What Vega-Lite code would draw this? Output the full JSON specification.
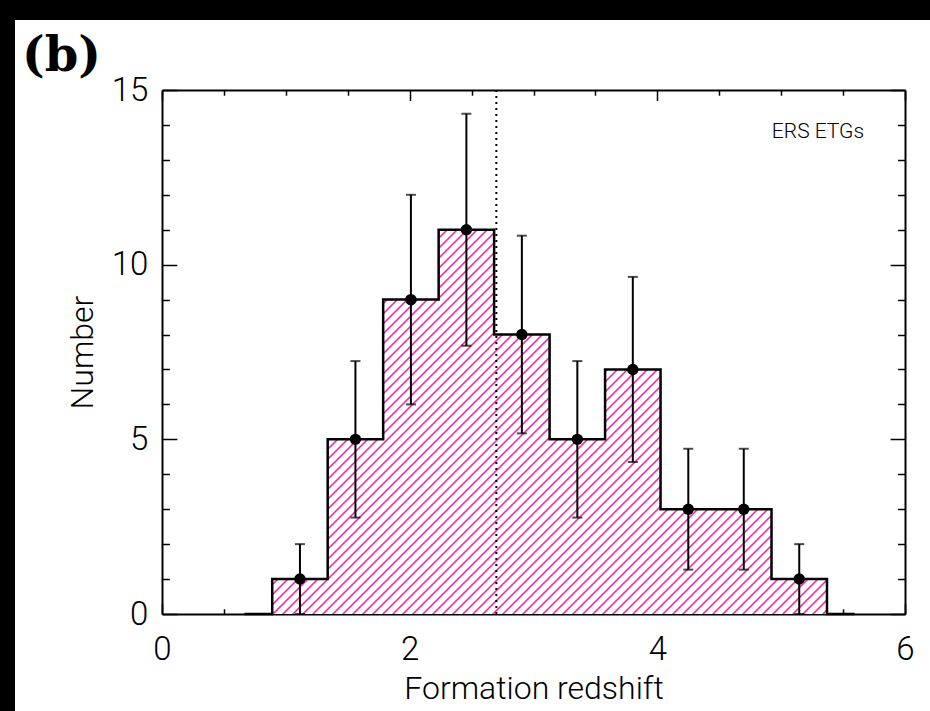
{
  "$schema": "https://vega.github.io/schema/vega-lite/v6.json",
  "autosize": "none",
  "width": 915,
  "height": 691,
  "padding": {"left": 15, "top": 20, "right": 0, "bottom": 0},
  "background": "black",
  "config": {
    "view": {"fill": "white", "stroke": null},
    "axis": {"grid": false, "domainColor": "black", "domainWidth": 2, "tickColor": "black", "tickWidth": 1.5, "labelColor": "black", "titleColor": "black", "labelFont": "Roboto", "labelFontWeight": 300, "titleFont": "Roboto", "titleFontWeight": 300, "labelFlush": false, "labelOverlap": false, "labelBound": false}
  },
  "datasets": {
    "hist": [
      {"z": 0.666, "n": 0},
      {"z": 0.89, "n": 1},
      {"z": 1.338, "n": 5},
      {"z": 1.786, "n": 9},
      {"z": 2.234, "n": 11},
      {"z": 2.682, "n": 8},
      {"z": 3.13, "n": 5},
      {"z": 3.578, "n": 7},
      {"z": 4.026, "n": 3},
      {"z": 4.474, "n": 3},
      {"z": 4.922, "n": 1},
      {"z": 5.37, "n": 0},
      {"z": 5.594, "n": 0}
    ],
    "pts": [
      {"z": 1.114, "n": 1, "lo": 0, "hi": 2},
      {"z": 1.562, "n": 5, "lo": 2.76, "hi": 7.24},
      {"z": 2.01, "n": 9, "lo": 6, "hi": 12},
      {"z": 2.458, "n": 11, "lo": 7.68, "hi": 14.32},
      {"z": 2.906, "n": 8, "lo": 5.17, "hi": 10.83},
      {"z": 3.354, "n": 5, "lo": 2.76, "hi": 7.24},
      {"z": 3.802, "n": 7, "lo": 4.35, "hi": 9.65},
      {"z": 4.25, "n": 3, "lo": 1.27, "hi": 4.73},
      {"z": 4.698, "n": 3, "lo": 1.27, "hi": 4.73},
      {"z": 5.146, "n": 1, "lo": 0, "hi": 2}
    ]
  },
  "resolve": {"axis": {"x": "independent", "y": "independent"}},
  "layer": [
    {
      "data": {"name": "hist"},
      "transform": [{"filter": {"field": "z", "range": [0.8, 5.4]}}],
      "mark": {"type": "area", "interpolate": "step-after", "fill": {"gradient": "linear", "x1": 0, "y1": 0, "x2": 1.2182, "y2": 0.8437, "stops": [
        {"offset": 0, "color": "white"},
        {"offset": 0.0034, "color": "white"}, {"offset": 0.0044, "color": "#f2a"}, {"offset": 0.0056, "color": "#f2a"}, {"offset": 0.0066, "color": "white"},
        {"offset": 0.0134, "color": "white"}, {"offset": 0.0144, "color": "#f2a"}, {"offset": 0.0156, "color": "#f2a"}, {"offset": 0.0166, "color": "white"},
        {"offset": 0.0234, "color": "white"}, {"offset": 0.0244, "color": "#f2a"}, {"offset": 0.0256, "color": "#f2a"}, {"offset": 0.0266, "color": "white"},
        {"offset": 0.0334, "color": "white"}, {"offset": 0.0344, "color": "#f2a"}, {"offset": 0.0356, "color": "#f2a"}, {"offset": 0.0366, "color": "white"},
        {"offset": 0.0434, "color": "white"}, {"offset": 0.0444, "color": "#f2a"}, {"offset": 0.0456, "color": "#f2a"}, {"offset": 0.0466, "color": "white"},
        {"offset": 0.0534, "color": "white"}, {"offset": 0.0544, "color": "#f2a"}, {"offset": 0.0556, "color": "#f2a"}, {"offset": 0.0566, "color": "white"},
        {"offset": 0.0634, "color": "white"}, {"offset": 0.0644, "color": "#f2a"}, {"offset": 0.0656, "color": "#f2a"}, {"offset": 0.0666, "color": "white"},
        {"offset": 0.0734, "color": "white"}, {"offset": 0.0744, "color": "#f2a"}, {"offset": 0.0756, "color": "#f2a"}, {"offset": 0.0766, "color": "white"},
        {"offset": 0.0834, "color": "white"}, {"offset": 0.0844, "color": "#f2a"}, {"offset": 0.0856, "color": "#f2a"}, {"offset": 0.0866, "color": "white"},
        {"offset": 0.0934, "color": "white"}, {"offset": 0.0944, "color": "#f2a"}, {"offset": 0.0956, "color": "#f2a"}, {"offset": 0.0966, "color": "white"},
        {"offset": 0.1034, "color": "white"}, {"offset": 0.1044, "color": "#f2a"}, {"offset": 0.1056, "color": "#f2a"}, {"offset": 0.1066, "color": "white"},
        {"offset": 0.1134, "color": "white"}, {"offset": 0.1144, "color": "#f2a"}, {"offset": 0.1156, "color": "#f2a"}, {"offset": 0.1166, "color": "white"},
        {"offset": 0.1234, "color": "white"}, {"offset": 0.1244, "color": "#f2a"}, {"offset": 0.1256, "color": "#f2a"}, {"offset": 0.1266, "color": "white"},
        {"offset": 0.1334, "color": "white"}, {"offset": 0.1344, "color": "#f2a"}, {"offset": 0.1356, "color": "#f2a"}, {"offset": 0.1366, "color": "white"},
        {"offset": 0.1434, "color": "white"}, {"offset": 0.1444, "color": "#f2a"}, {"offset": 0.1456, "color": "#f2a"}, {"offset": 0.1466, "color": "white"},
        {"offset": 0.1534, "color": "white"}, {"offset": 0.1544, "color": "#f2a"}, {"offset": 0.1556, "color": "#f2a"}, {"offset": 0.1566, "color": "white"},
        {"offset": 0.1634, "color": "white"}, {"offset": 0.1644, "color": "#f2a"}, {"offset": 0.1656, "color": "#f2a"}, {"offset": 0.1666, "color": "white"},
        {"offset": 0.1734, "color": "white"}, {"offset": 0.1744, "color": "#f2a"}, {"offset": 0.1756, "color": "#f2a"}, {"offset": 0.1766, "color": "white"},
        {"offset": 0.1834, "color": "white"}, {"offset": 0.1844, "color": "#f2a"}, {"offset": 0.1856, "color": "#f2a"}, {"offset": 0.1866, "color": "white"},
        {"offset": 0.1934, "color": "white"}, {"offset": 0.1944, "color": "#f2a"}, {"offset": 0.1956, "color": "#f2a"}, {"offset": 0.1966, "color": "white"},
        {"offset": 0.2034, "color": "white"}, {"offset": 0.2044, "color": "#f2a"}, {"offset": 0.2056, "color": "#f2a"}, {"offset": 0.2066, "color": "white"},
        {"offset": 0.2134, "color": "white"}, {"offset": 0.2144, "color": "#f2a"}, {"offset": 0.2156, "color": "#f2a"}, {"offset": 0.2166, "color": "white"},
        {"offset": 0.2234, "color": "white"}, {"offset": 0.2244, "color": "#f2a"}, {"offset": 0.2256, "color": "#f2a"}, {"offset": 0.2266, "color": "white"},
        {"offset": 0.2334, "color": "white"}, {"offset": 0.2344, "color": "#f2a"}, {"offset": 0.2356, "color": "#f2a"}, {"offset": 0.2366, "color": "white"},
        {"offset": 0.2434, "color": "white"}, {"offset": 0.2444, "color": "#f2a"}, {"offset": 0.2456, "color": "#f2a"}, {"offset": 0.2466, "color": "white"},
        {"offset": 0.2534, "color": "white"}, {"offset": 0.2544, "color": "#f2a"}, {"offset": 0.2556, "color": "#f2a"}, {"offset": 0.2566, "color": "white"},
        {"offset": 0.2634, "color": "white"}, {"offset": 0.2644, "color": "#f2a"}, {"offset": 0.2656, "color": "#f2a"}, {"offset": 0.2666, "color": "white"},
        {"offset": 0.2734, "color": "white"}, {"offset": 0.2744, "color": "#f2a"}, {"offset": 0.2756, "color": "#f2a"}, {"offset": 0.2766, "color": "white"},
        {"offset": 0.2834, "color": "white"}, {"offset": 0.2844, "color": "#f2a"}, {"offset": 0.2856, "color": "#f2a"}, {"offset": 0.2866, "color": "white"},
        {"offset": 0.2934, "color": "white"}, {"offset": 0.2944, "color": "#f2a"}, {"offset": 0.2956, "color": "#f2a"}, {"offset": 0.2966, "color": "white"},
        {"offset": 0.3034, "color": "white"}, {"offset": 0.3044, "color": "#f2a"}, {"offset": 0.3056, "color": "#f2a"}, {"offset": 0.3066, "color": "white"},
        {"offset": 0.3134, "color": "white"}, {"offset": 0.3144, "color": "#f2a"}, {"offset": 0.3156, "color": "#f2a"}, {"offset": 0.3166, "color": "white"},
        {"offset": 0.3234, "color": "white"}, {"offset": 0.3244, "color": "#f2a"}, {"offset": 0.3256, "color": "#f2a"}, {"offset": 0.3266, "color": "white"},
        {"offset": 0.3334, "color": "white"}, {"offset": 0.3344, "color": "#f2a"}, {"offset": 0.3356, "color": "#f2a"}, {"offset": 0.3366, "color": "white"},
        {"offset": 0.3434, "color": "white"}, {"offset": 0.3444, "color": "#f2a"}, {"offset": 0.3456, "color": "#f2a"}, {"offset": 0.3466, "color": "white"},
        {"offset": 0.3534, "color": "white"}, {"offset": 0.3544, "color": "#f2a"}, {"offset": 0.3556, "color": "#f2a"}, {"offset": 0.3566, "color": "white"},
        {"offset": 0.3634, "color": "white"}, {"offset": 0.3644, "color": "#f2a"}, {"offset": 0.3656, "color": "#f2a"}, {"offset": 0.3666, "color": "white"},
        {"offset": 0.3734, "color": "white"}, {"offset": 0.3744, "color": "#f2a"}, {"offset": 0.3756, "color": "#f2a"}, {"offset": 0.3766, "color": "white"},
        {"offset": 0.3834, "color": "white"}, {"offset": 0.3844, "color": "#f2a"}, {"offset": 0.3856, "color": "#f2a"}, {"offset": 0.3866, "color": "white"},
        {"offset": 0.3934, "color": "white"}, {"offset": 0.3944, "color": "#f2a"}, {"offset": 0.3956, "color": "#f2a"}, {"offset": 0.3966, "color": "white"},
        {"offset": 0.4034, "color": "white"}, {"offset": 0.4044, "color": "#f2a"}, {"offset": 0.4056, "color": "#f2a"}, {"offset": 0.4066, "color": "white"},
        {"offset": 0.4134, "color": "white"}, {"offset": 0.4144, "color": "#f2a"}, {"offset": 0.4156, "color": "#f2a"}, {"offset": 0.4166, "color": "white"},
        {"offset": 0.4234, "color": "white"}, {"offset": 0.4244, "color": "#f2a"}, {"offset": 0.4256, "color": "#f2a"}, {"offset": 0.4266, "color": "white"},
        {"offset": 0.4334, "color": "white"}, {"offset": 0.4344, "color": "#f2a"}, {"offset": 0.4356, "color": "#f2a"}, {"offset": 0.4366, "color": "white"},
        {"offset": 0.4434, "color": "white"}, {"offset": 0.4444, "color": "#f2a"}, {"offset": 0.4456, "color": "#f2a"}, {"offset": 0.4466, "color": "white"},
        {"offset": 0.4534, "color": "white"}, {"offset": 0.4544, "color": "#f2a"}, {"offset": 0.4556, "color": "#f2a"}, {"offset": 0.4566, "color": "white"},
        {"offset": 0.4634, "color": "white"}, {"offset": 0.4644, "color": "#f2a"}, {"offset": 0.4656, "color": "#f2a"}, {"offset": 0.4666, "color": "white"},
        {"offset": 0.4734, "color": "white"}, {"offset": 0.4744, "color": "#f2a"}, {"offset": 0.4756, "color": "#f2a"}, {"offset": 0.4766, "color": "white"},
        {"offset": 0.4834, "color": "white"}, {"offset": 0.4844, "color": "#f2a"}, {"offset": 0.4856, "color": "#f2a"}, {"offset": 0.4866, "color": "white"},
        {"offset": 0.4934, "color": "white"}, {"offset": 0.4944, "color": "#f2a"}, {"offset": 0.4956, "color": "#f2a"}, {"offset": 0.4966, "color": "white"},
        {"offset": 0.5034, "color": "white"}, {"offset": 0.5044, "color": "#f2a"}, {"offset": 0.5056, "color": "#f2a"}, {"offset": 0.5066, "color": "white"},
        {"offset": 0.5134, "color": "white"}, {"offset": 0.5144, "color": "#f2a"}, {"offset": 0.5156, "color": "#f2a"}, {"offset": 0.5166, "color": "white"},
        {"offset": 0.5234, "color": "white"}, {"offset": 0.5244, "color": "#f2a"}, {"offset": 0.5256, "color": "#f2a"}, {"offset": 0.5266, "color": "white"},
        {"offset": 0.5334, "color": "white"}, {"offset": 0.5344, "color": "#f2a"}, {"offset": 0.5356, "color": "#f2a"}, {"offset": 0.5366, "color": "white"},
        {"offset": 0.5434, "color": "white"}, {"offset": 0.5444, "color": "#f2a"}, {"offset": 0.5456, "color": "#f2a"}, {"offset": 0.5466, "color": "white"},
        {"offset": 0.5534, "color": "white"}, {"offset": 0.5544, "color": "#f2a"}, {"offset": 0.5556, "color": "#f2a"}, {"offset": 0.5566, "color": "white"},
        {"offset": 0.5634, "color": "white"}, {"offset": 0.5644, "color": "#f2a"}, {"offset": 0.5656, "color": "#f2a"}, {"offset": 0.5666, "color": "white"},
        {"offset": 0.5734, "color": "white"}, {"offset": 0.5744, "color": "#f2a"}, {"offset": 0.5756, "color": "#f2a"}, {"offset": 0.5766, "color": "white"},
        {"offset": 0.5834, "color": "white"}, {"offset": 0.5844, "color": "#f2a"}, {"offset": 0.5856, "color": "#f2a"}, {"offset": 0.5866, "color": "white"},
        {"offset": 0.5934, "color": "white"}, {"offset": 0.5944, "color": "#f2a"}, {"offset": 0.5956, "color": "#f2a"}, {"offset": 0.5966, "color": "white"},
        {"offset": 0.6034, "color": "white"}, {"offset": 0.6044, "color": "#f2a"}, {"offset": 0.6056, "color": "#f2a"}, {"offset": 0.6066, "color": "white"},
        {"offset": 0.6134, "color": "white"}, {"offset": 0.6144, "color": "#f2a"}, {"offset": 0.6156, "color": "#f2a"}, {"offset": 0.6166, "color": "white"},
        {"offset": 0.6234, "color": "white"}, {"offset": 0.6244, "color": "#f2a"}, {"offset": 0.6256, "color": "#f2a"}, {"offset": 0.6266, "color": "white"},
        {"offset": 0.6334, "color": "white"}, {"offset": 0.6344, "color": "#f2a"}, {"offset": 0.6356, "color": "#f2a"}, {"offset": 0.6366, "color": "white"},
        {"offset": 0.6434, "color": "white"}, {"offset": 0.6444, "color": "#f2a"}, {"offset": 0.6456, "color": "#f2a"}, {"offset": 0.6466, "color": "white"},
        {"offset": 0.6534, "color": "white"}, {"offset": 0.6544, "color": "#f2a"}, {"offset": 0.6556, "color": "#f2a"}, {"offset": 0.6566, "color": "white"},
        {"offset": 0.6634, "color": "white"}, {"offset": 0.6644, "color": "#f2a"}, {"offset": 0.6656, "color": "#f2a"}, {"offset": 0.6666, "color": "white"},
        {"offset": 0.6734, "color": "white"}, {"offset": 0.6744, "color": "#f2a"}, {"offset": 0.6756, "color": "#f2a"}, {"offset": 0.6766, "color": "white"},
        {"offset": 0.6834, "color": "white"}, {"offset": 0.6844, "color": "#f2a"}, {"offset": 0.6856, "color": "#f2a"}, {"offset": 0.6866, "color": "white"},
        {"offset": 0.6934, "color": "white"}, {"offset": 0.6944, "color": "#f2a"}, {"offset": 0.6956, "color": "#f2a"}, {"offset": 0.6966, "color": "white"},
        {"offset": 0.7034, "color": "white"}, {"offset": 0.7044, "color": "#f2a"}, {"offset": 0.7056, "color": "#f2a"}, {"offset": 0.7066, "color": "white"},
        {"offset": 0.7134, "color": "white"}, {"offset": 0.7144, "color": "#f2a"}, {"offset": 0.7156, "color": "#f2a"}, {"offset": 0.7166, "color": "white"},
        {"offset": 0.7234, "color": "white"}, {"offset": 0.7244, "color": "#f2a"}, {"offset": 0.7256, "color": "#f2a"}, {"offset": 0.7266, "color": "white"},
        {"offset": 0.7334, "color": "white"}, {"offset": 0.7344, "color": "#f2a"}, {"offset": 0.7356, "color": "#f2a"}, {"offset": 0.7366, "color": "white"},
        {"offset": 0.7434, "color": "white"}, {"offset": 0.7444, "color": "#f2a"}, {"offset": 0.7456, "color": "#f2a"}, {"offset": 0.7466, "color": "white"},
        {"offset": 0.7534, "color": "white"}, {"offset": 0.7544, "color": "#f2a"}, {"offset": 0.7556, "color": "#f2a"}, {"offset": 0.7566, "color": "white"},
        {"offset": 0.7634, "color": "white"}, {"offset": 0.7644, "color": "#f2a"}, {"offset": 0.7656, "color": "#f2a"}, {"offset": 0.7666, "color": "white"},
        {"offset": 0.7734, "color": "white"}, {"offset": 0.7744, "color": "#f2a"}, {"offset": 0.7756, "color": "#f2a"}, {"offset": 0.7766, "color": "white"},
        {"offset": 0.7834, "color": "white"}, {"offset": 0.7844, "color": "#f2a"}, {"offset": 0.7856, "color": "#f2a"}, {"offset": 0.7866, "color": "white"},
        {"offset": 0.7934, "color": "white"}, {"offset": 0.7944, "color": "#f2a"}, {"offset": 0.7956, "color": "#f2a"}, {"offset": 0.7966, "color": "white"},
        {"offset": 0.8034, "color": "white"}, {"offset": 0.8044, "color": "#f2a"}, {"offset": 0.8056, "color": "#f2a"}, {"offset": 0.8066, "color": "white"},
        {"offset": 0.8134, "color": "white"}, {"offset": 0.8144, "color": "#f2a"}, {"offset": 0.8156, "color": "#f2a"}, {"offset": 0.8166, "color": "white"},
        {"offset": 0.8234, "color": "white"}, {"offset": 0.8244, "color": "#f2a"}, {"offset": 0.8256, "color": "#f2a"}, {"offset": 0.8266, "color": "white"},
        {"offset": 0.8334, "color": "white"}, {"offset": 0.8344, "color": "#f2a"}, {"offset": 0.8356, "color": "#f2a"}, {"offset": 0.8366, "color": "white"},
        {"offset": 0.8434, "color": "white"}, {"offset": 0.8444, "color": "#f2a"}, {"offset": 0.8456, "color": "#f2a"}, {"offset": 0.8466, "color": "white"},
        {"offset": 0.8534, "color": "white"}, {"offset": 0.8544, "color": "#f2a"}, {"offset": 0.8556, "color": "#f2a"}, {"offset": 0.8566, "color": "white"},
        {"offset": 0.8634, "color": "white"}, {"offset": 0.8644, "color": "#f2a"}, {"offset": 0.8656, "color": "#f2a"}, {"offset": 0.8666, "color": "white"},
        {"offset": 0.8734, "color": "white"}, {"offset": 0.8744, "color": "#f2a"}, {"offset": 0.8756, "color": "#f2a"}, {"offset": 0.8766, "color": "white"},
        {"offset": 0.8834, "color": "white"}, {"offset": 0.8844, "color": "#f2a"}, {"offset": 0.8856, "color": "#f2a"}, {"offset": 0.8866, "color": "white"},
        {"offset": 0.8934, "color": "white"}, {"offset": 0.8944, "color": "#f2a"}, {"offset": 0.8956, "color": "#f2a"}, {"offset": 0.8966, "color": "white"},
        {"offset": 0.9034, "color": "white"}, {"offset": 0.9044, "color": "#f2a"}, {"offset": 0.9056, "color": "#f2a"}, {"offset": 0.9066, "color": "white"},
        {"offset": 0.9134, "color": "white"}, {"offset": 0.9144, "color": "#f2a"}, {"offset": 0.9156, "color": "#f2a"}, {"offset": 0.9166, "color": "white"},
        {"offset": 0.9234, "color": "white"}, {"offset": 0.9244, "color": "#f2a"}, {"offset": 0.9256, "color": "#f2a"}, {"offset": 0.9266, "color": "white"},
        {"offset": 0.9334, "color": "white"}, {"offset": 0.9344, "color": "#f2a"}, {"offset": 0.9356, "color": "#f2a"}, {"offset": 0.9366, "color": "white"},
        {"offset": 0.9434, "color": "white"}, {"offset": 0.9444, "color": "#f2a"}, {"offset": 0.9456, "color": "#f2a"}, {"offset": 0.9466, "color": "white"},
        {"offset": 1, "color": "white"}
      ]}},
      "encoding": {
        "x": {"field": "z", "type": "quantitative", "scale": {"domain": [0, 6], "range": [147, 890], "nice": false, "zero": false},
          "axis": {"orient": "bottom", "offset": -97, "values": [0, 0.5, 1, 1.5, 2, 2.5, 3, 3.5, 4, 4.5, 5, 5.5, 6],
            "labelExpr": "datum.value % 2 === 0 ? '' + datum.value : ''",
            "tickSize": {"condition": {"test": "datum.value % 2 === 0", "value": -10.5}, "value": -5.2},
            "labelPadding": 30, "labelFontSize": 33, "title": "Formation redshift", "titleFontSize": 32, "titlePadding": 2}},
        "y": {"field": "n", "type": "quantitative", "stack": null, "scale": {"domain": [0, 15], "range": [594, 70], "nice": false, "zero": false},
          "axis": {"orient": "left", "offset": -147, "values": [0, 1, 2, 3, 4, 5, 6, 7, 8, 9, 10, 11, 12, 13, 14, 15],
            "labelExpr": "datum.value % 5 === 0 ? '' + datum.value : ''",
            "tickSize": {"condition": {"test": "datum.value % 5 === 0", "value": -14.9}, "value": -7.4},
            "labelPadding": 29, "labelFontSize": 33, "title": "Number", "titleFontSize": 32, "titlePadding": 12}}
      }
    },
    {
      "data": {"name": "hist"},
      "mark": {"type": "line", "interpolate": "step-after", "color": "black", "strokeWidth": 2.5},
      "encoding": {
        "x": {"field": "z", "type": "quantitative",
          "axis": {"orient": "top", "offset": -70, "values": [0, 0.5, 1, 1.5, 2, 2.5, 3, 3.5, 4, 4.5, 5, 5.5, 6], "labels": false, "title": null,
            "tickSize": {"condition": {"test": "datum.value % 2 === 0", "value": -10.5}, "value": -5.2}}},
        "y": {"field": "n", "type": "quantitative",
          "axis": {"orient": "right", "offset": -25, "values": [0, 1, 2, 3, 4, 5, 6, 7, 8, 9, 10, 11, 12, 13, 14, 15], "labels": false, "title": null,
            "tickSize": {"condition": {"test": "datum.value % 5 === 0", "value": -14.9}, "value": -7.4}}}
      }
    },
    {
      "data": {"values": [{}]},
      "mark": {"type": "rule", "color": "black", "strokeWidth": 2, "strokeDash": [2, 4]},
      "encoding": {
        "x": {"datum": 2.7, "type": "quantitative", "axis": null},
        "y": {"datum": 0, "type": "quantitative", "axis": null},
        "y2": {"datum": 15}
      }
    },
    {
      "data": {"name": "pts"},
      "mark": {"type": "rule", "color": "black", "strokeWidth": 2},
      "encoding": {
        "x": {"field": "z", "type": "quantitative", "axis": null},
        "y": {"field": "lo", "type": "quantitative", "axis": null},
        "y2": {"field": "hi"}
      }
    },
    {
      "data": {"name": "pts"},
      "mark": {"type": "tick", "orient": "horizontal", "color": "black", "size": 10, "thickness": 2},
      "encoding": {
        "x": {"field": "z", "type": "quantitative", "axis": null},
        "y": {"field": "hi", "type": "quantitative", "axis": null}
      }
    },
    {
      "data": {"name": "pts"},
      "mark": {"type": "tick", "orient": "horizontal", "color": "black", "size": 10, "thickness": 2},
      "encoding": {
        "x": {"field": "z", "type": "quantitative", "axis": null},
        "y": {"field": "lo", "type": "quantitative", "axis": null}
      }
    },
    {
      "data": {"name": "pts"},
      "mark": {"type": "circle", "color": "black", "opacity": 1, "size": 130},
      "encoding": {
        "x": {"field": "z", "type": "quantitative", "axis": null},
        "y": {"field": "n", "type": "quantitative", "axis": null}
      }
    },
    {
      "data": {"values": [{}]},
      "mark": {"type": "text", "text": "ERS ETGs", "align": "right", "baseline": "middle", "font": "Roboto", "fontWeight": 300, "fontSize": 21, "color": "black"},
      "encoding": {
        "x": {"datum": 5.67, "type": "quantitative", "axis": null},
        "y": {"datum": 13.8, "type": "quantitative", "axis": null}
      }
    },
    {
      "data": {"values": [{}]},
      "mark": {"type": "text", "text": "(b)", "align": "left", "baseline": "alphabetic", "font": "DejaVu Serif", "fontWeight": "bold", "fontSize": 48, "color": "black"},
      "encoding": {
        "x": {"datum": -1.131, "type": "quantitative", "axis": null},
        "y": {"datum": 15.545, "type": "quantitative", "axis": null}
      }
    }
  ]
}
